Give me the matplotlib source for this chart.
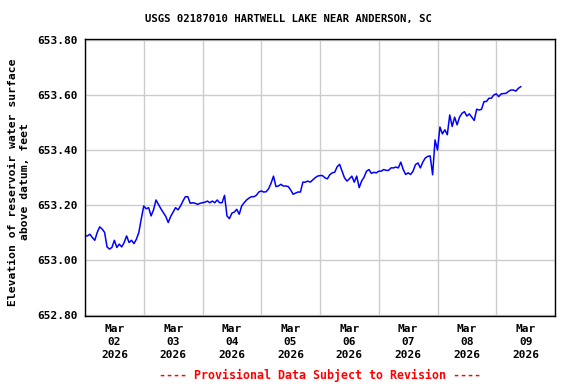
import pandas as pd
import matplotlib
matplotlib.use("Agg")
import matplotlib.pyplot as plt

# hourly lake elevation (ft)
mar02 = [653.087, 653.087, 653.093, 653.081, 653.071, 653.100, 653.120, 653.112,
         653.100, 653.047, 653.039, 653.045, 653.071, 653.045, 653.057, 653.047,
         653.063, 653.087, 653.063, 653.071, 653.059, 653.075, 653.100, 653.150]
mar03 = [653.196, 653.186, 653.190, 653.160, 653.182, 653.218, 653.202, 653.186,
         653.172, 653.158, 653.136, 653.158, 653.174, 653.190, 653.182, 653.196,
         653.214, 653.230, 653.230, 653.206, 653.208, 653.206, 653.202, 653.206]
mar04 = [653.208, 653.210, 653.214, 653.208, 653.214, 653.208, 653.218, 653.208,
         653.208, 653.235, 653.160, 653.150, 653.170, 653.174, 653.184, 653.166,
         653.196, 653.208, 653.218, 653.225, 653.230, 653.230, 653.235, 653.247]
mar05 = [653.251, 653.247, 653.248, 653.259, 653.279, 653.305, 653.267, 653.269,
         653.275, 653.269, 653.269, 653.267, 653.255, 653.239, 653.243, 653.247,
         653.247, 653.283, 653.283, 653.287, 653.283, 653.291, 653.299, 653.305]
mar06 = [653.307, 653.307, 653.299, 653.295, 653.310, 653.317, 653.319, 653.339,
         653.348, 653.323, 653.299, 653.287, 653.295, 653.305, 653.283, 653.305,
         653.263, 653.287, 653.301, 653.323, 653.329, 653.315, 653.319, 653.317]
mar07 = [653.323, 653.323, 653.329, 653.326, 653.326, 653.335, 653.335, 653.338,
         653.335, 653.356, 653.329, 653.311, 653.317, 653.311, 653.323, 653.347,
         653.353, 653.335, 653.356, 653.371, 653.377, 653.379, 653.310, 653.437]
mar08 = [653.400, 653.484, 653.459, 653.474, 653.456, 653.528, 653.486, 653.520,
         653.492, 653.520, 653.534, 653.540, 653.524, 653.532, 653.520, 653.508,
         653.549, 653.546, 653.549, 653.577, 653.577, 653.589, 653.589, 653.601]
mar09 = [653.605, 653.595, 653.605, 653.606, 653.607, 653.614, 653.619, 653.619,
         653.615, 653.625, 653.631]

day_labels = ["Mar\n02\n2026", "Mar\n03\n2026", "Mar\n04\n2026", "Mar\n05\n2026",
              "Mar\n06\n2026", "Mar\n07\n2026", "Mar\n08\n2026", "Mar\n09\n2026"]
y_ticks = [652.8, 653.0, 653.2, 653.4, 653.6, 653.8]

elev = mar02 + mar03 + mar04 + mar05 + mar06 + mar07 + mar08 + mar09
times = pd.date_range("2026-03-02 00:00", periods=len(elev), freq="h")

mono = "DejaVu Sans Mono"

fig = plt.figure(figsize=(5.76, 3.84), dpi=100)
ax = fig.add_axes([85 / 576, 1 - 316 / 384, 470 / 576, 277 / 384])
ax.plot(times, elev, color="#0000ff", lw=1.1)

days = pd.date_range("2026-03-02", periods=9, freq="D")
ax.set_xlim(days[0], days[-1])
ax.set_ylim(652.795, 653.805)

ax.set_xticks(days)
ax.set_xticklabels([])
ax.set_xticks(days[:-1] + pd.Timedelta(hours=12), minor=True)
ax.set_xticklabels(day_labels, minor=True, family=mono, weight="bold",
                   fontsize=8, linespacing=1.35)
ax.set_yticks(y_ticks)
ax.set_yticklabels(["%.2f" % v for v in y_ticks], family=mono,
                   weight="bold", fontsize=8)
ax.tick_params(which="both", length=0)
ax.tick_params(axis="x", which="minor", pad=6)
ax.tick_params(axis="y", pad=5)
ax.grid(True, which="major", color="#cccccc", lw=1)
for s in ax.spines.values():
    s.set_linewidth(1.0)

fig.text(0.5, 1 - 19 / 384, "USGS 02187010 HARTWELL LAKE NEAR ANDERSON, SC",
         ha="center", va="center", family=mono, weight="bold", fontsize=7.7)
fig.text(19 / 576, 1 - 182 / 384,
         "Elevation of reservoir water surface\nabove datum, feet",
         rotation=90, ha="center", va="center", multialignment="center",
         family=mono, weight="bold", fontsize=8.2, linespacing=1.35)
fig.text(320 / 576, 1 - 375 / 384, "---- Provisional Data Subject to Revision ----",
         ha="center", va="center", color="red", family=mono, weight="bold",
         fontsize=8.4)

fig.savefig("out.png", dpi=100)
